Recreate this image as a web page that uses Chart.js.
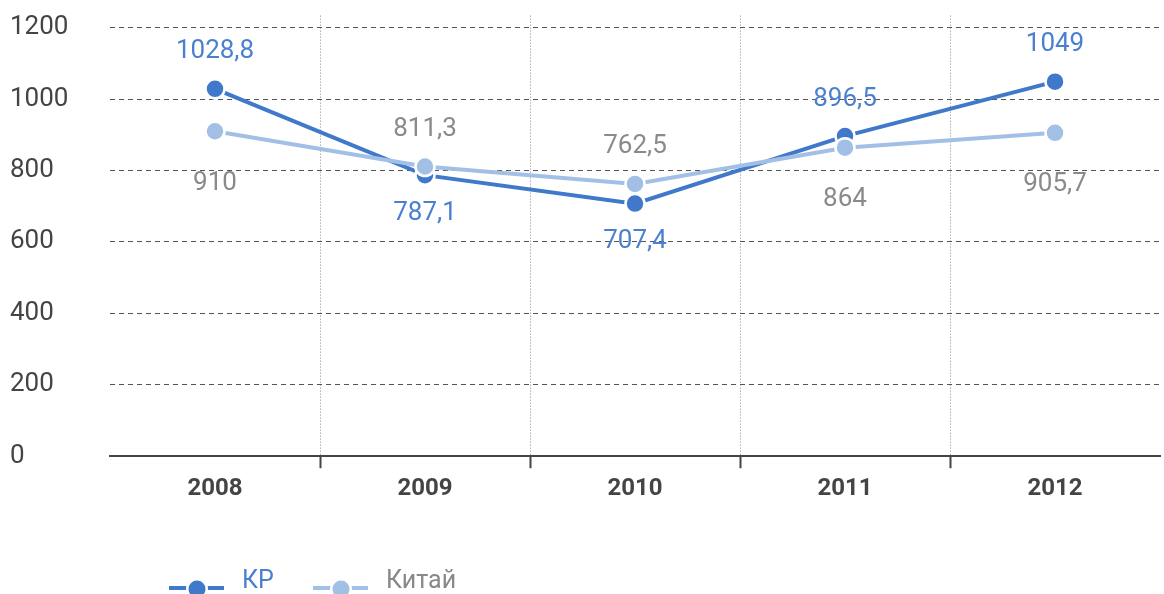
<!DOCTYPE html>
<html>
<head>
<meta charset="utf-8">
<script src="https://cdn.jsdelivr.net/npm/chart.js@4.4.1/dist/chart.umd.min.js"></script>
<style>
  html, body { margin: 0; padding: 0; background: #fff; }
  #wrap { width: 1164px; height: 594px; }
</style>
</head>
<body>
<div id="wrap"><canvas id="myChart"></canvas></div>
<script>
const years = ['2008', '2009', '2010', '2011', '2012'];
const kpValues = [1028.8, 787.1, 707.4, 896.5, 1049];
const chinaValues = [910, 811.3, 762.5, 864, 905.7];
const yTicks = [0, 200, 400, 600, 800, 1000, 1200];
const kpLabelPos = ['above', 'below', 'below', 'above', 'above'];
const chinaLabelPos = ['below', 'above', 'above', 'below', 'below'];

const kpColor = '#4079c9';
const chinaColor = '#a2c0e6';
const fontName = 'Roboto, "Open Sans", sans-serif';

function fmt(v) {
    return String(v).replace('.', ',');
}

function isEdge(c) {
    return c.index === 0 || c.index === undefined || c.type !== 'tick';
}

// value labels above / below the points
const valueLabels = {
    id: 'valueLabels',
    afterDatasetsDraw(chart) {
        const ctx = chart.ctx;
        ctx.save();
        ctx.font = '26px ' + fontName;
        ctx.textAlign = 'center';
        ctx.textBaseline = 'middle';
        chart.data.datasets.forEach((ds, i) => {
            const meta = chart.getDatasetMeta(i);
            meta.data.forEach((pt, j) => {
                const pos = ds.labelPos[j];
                const off = pos === 'above' ? -37 : ds.belowOffset;
                ctx.fillStyle = ds.labelColor;
                ctx.fillText(fmt(ds.data[j]), pt.x, pt.y + off);
            });
        });
        ctx.restore();
    }
};

// legend: line with a dot in the middle, coloured text
const lineLegend = {
    id: 'lineLegend',
    afterDraw(chart) {
        const ctx = chart.ctx;
        const y = 588;
        const items = [
            { x: 169, text: 'КР', color: kpColor, textColor: '#4a80cf' },
            { x: 313, text: 'Китай', color: chinaColor, textColor: '#888888' }
        ];
        ctx.save();
        items.forEach(it => {
            ctx.strokeStyle = it.color;
            ctx.lineWidth = 4;
            ctx.beginPath();
            ctx.moveTo(it.x, y);
            ctx.lineTo(it.x + 55, y);
            ctx.stroke();
            ctx.fillStyle = '#fff';
            ctx.beginPath();
            ctx.arc(it.x + 28, y + 1, 11, 0, Math.PI * 2);
            ctx.fill();
            ctx.fillStyle = it.color;
            ctx.beginPath();
            ctx.arc(it.x + 28, y + 1, 8.5, 0, Math.PI * 2);
            ctx.fill();
            ctx.font = '25px ' + fontName;
            ctx.textBaseline = 'middle';
            ctx.textAlign = 'left';
            ctx.fillStyle = it.textColor;
            ctx.fillText(it.text, it.x + 73, 582);
        });
        ctx.restore();
    }
};

const ctx = document.getElementById('myChart').getContext('2d');
const myChart = new Chart(ctx, {
    type: 'line',
    data: {
        labels: years,
        datasets: [{
            label: 'КР',
            data: kpValues,
            borderColor: kpColor,
            backgroundColor: kpColor,
            borderWidth: 4,
            pointRadius: 9.5,
            pointBorderWidth: 2.5,
            pointBorderColor: '#fff',
            pointBackgroundColor: kpColor,
            labelPos: kpLabelPos,
            labelColor: '#4a80cf',
            belowOffset: 38,
            order: 1
        }, {
            label: 'Китай',
            data: chinaValues,
            borderColor: chinaColor,
            backgroundColor: chinaColor,
            borderWidth: 4,
            pointRadius: 9.5,
            pointBorderWidth: 2.5,
            pointBorderColor: '#fff',
            pointBackgroundColor: chinaColor,
            labelPos: chinaLabelPos,
            labelColor: '#8a8a8a',
            belowOffset: 52,
            order: 0
        }]
    },
    options: {
        responsive: true,
        maintainAspectRatio: false,
        animation: false,
        layout: {
            autoPadding: false,
            padding: { left: 10, right: 4, top: 15, bottom: 85 }
        },
        scales: {
            x: {
                offset: true,
                grid: {
                    offset: true,
                    color: function(c) {
                        return isEdge(c) ? 'rgba(0,0,0,0)' : '#8a8a8a';
                    },
                    tickColor: function(c) {
                        return isEdge(c) ? 'rgba(0,0,0,0)' : '#444';
                    },
                    tickBorderDash: [],
                    tickWidth: 2,
                    tickLength: 12,
                    lineWidth: 1
                },
                border: {
                    display: true,
                    color: '#444',
                    width: 2,
                    dash: [1, 2]
                },
                ticks: {
                    color: '#444',
                    padding: 6,
                    font: { family: fontName, size: 24, weight: 'bold' }
                }
            },
            y: {
                min: 0,
                max: 1234,
                afterBuildTicks: function(scale) {
                    scale.ticks = yTicks.map(v => ({ value: v }));
                },
                afterFit: function(scale) {
                    scale.width = 100;
                },
                border: { display: false, dash: [5, 4] },
                grid: {
                    color: '#555',
                    drawTicks: false,
                    lineWidth: 1
                },
                ticks: {
                    color: '#444',
                    crossAlign: 'far',
                    padding: 0,
                    font: { family: fontName, size: 26 },
                    callback: function(v) { return String(v); }
                }
            }
        },
        plugins: {
            legend: { display: false },
            tooltip: { enabled: false }
        }
    },
    plugins: [valueLabels, lineLegend, {
        id: 'background-colour',
        beforeDraw: (chart) => {
            const c = chart.canvas.getContext('2d');
            c.fillStyle = 'white';
            c.fillRect(0, 0, chart.width, chart.height);
        }
    }]
});
</script>
</body>
</html>
